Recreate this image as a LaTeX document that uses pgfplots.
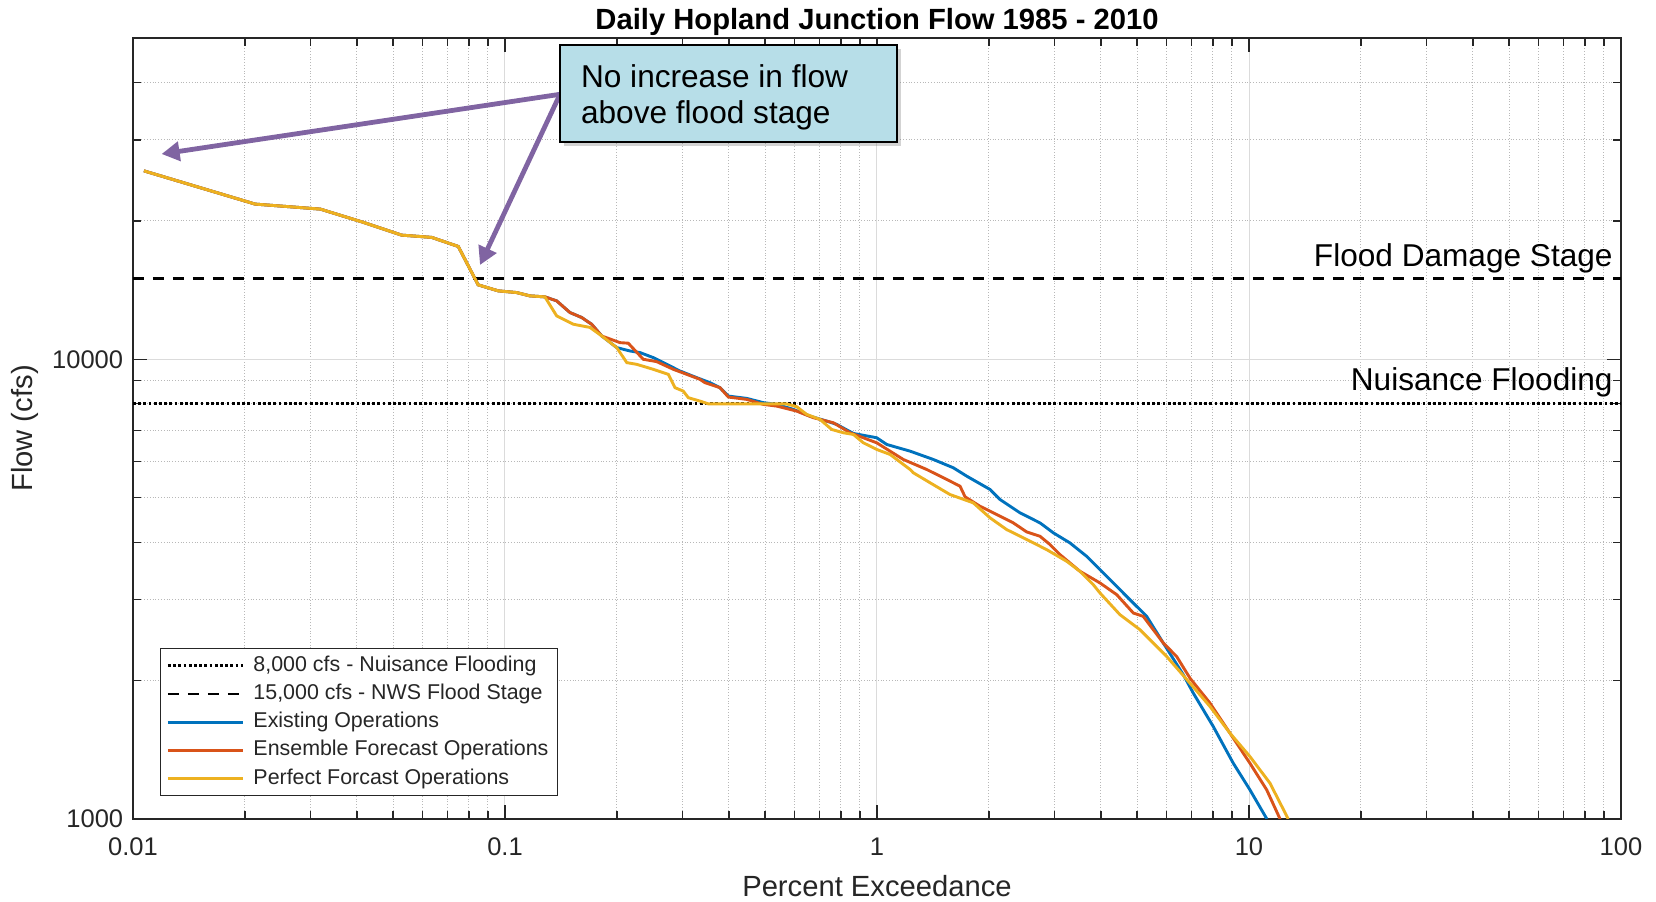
\documentclass[border=0pt]{standalone}
\usepackage{fontspec}
\setmainfont{Liberation Sans}
\usepackage{pgfplots}
\usepackage{pgfplotstable}
\pgfplotsset{compat=1.18}
\usetikzlibrary{arrows.meta,shadows}
\definecolor{mblue}{HTML}{0072BD}
\definecolor{morange}{HTML}{D95319}
\definecolor{myellow}{HTML}{EDB120}
\definecolor{apurple}{HTML}{8064A2}
\definecolor{boxblue}{HTML}{B7DEE8}
\definecolor{axgray}{HTML}{262626}
\pgfplotsset{legend image code/.code={\draw[#1] (0pt,0pt) -- (37.5pt,0pt); \path (40.5pt,0pt);}}

\pgfplotstableread{
x y
0.0107 25700
0.0213 21760
0.0319 21220
0.0416 19860
0.0527 18630
0.0635 18420
0.0749 17600
0.0847 14520
0.0959 14090
0.1075 13970
0.1167 13740
0.128 13670
0.1377 13400
0.1495 12640
0.1607 12330
0.1710 11920
0.1820 11240
0.1997 10605
0.2168 10425
0.2307 10342
0.2504 10085
0.2721 9752
0.2954 9430
0.3276 9123
0.3556 8896
0.3784 8675
0.3986 8318
0.4464 8222
0.4948 8048
0.5376 7980
0.5957 7783
0.6606 7524
0.7324 7338
0.7792 7218
0.8639 6898
0.9981 6751
1.062 6528
1.227 6313
1.417 6055
1.604 5808
1.742 5571
2.013 5210
2.141 4955
2.424 4634
2.743 4407
2.979 4193
3.302 3987
3.661 3728
3.977 3487
4.317 3262
4.786 3000
5.309 2759
5.884 2414
6.66 2060
7.086 1878
8.017 1589
9.074 1322
10.06 1157
11.17 1000
}\existing

\pgfplotstableread{
x y
0.0107 25700
0.0213 21760
0.0319 21220
0.0416 19860
0.0527 18630
0.0635 18420
0.0749 17600
0.0847 14520
0.0959 14090
0.1075 13970
0.1167 13740
0.128 13670
0.1377 13400
0.1495 12640
0.1607 12330
0.1710 11920
0.1820 11240
0.2038 10870
0.2145 10840
0.2354 10000
0.2557 9885
0.2835 9510
0.3079 9275
0.3343 9045
0.3448 8896
0.3784 8675
0.3986 8276
0.4464 8181
0.4948 7980
0.5376 7912
0.6083 7716
0.6743 7464
0.7629 7279
0.8461 6922
0.9981 6583
1.177 6055
1.360 5759
1.539 5479
1.672 5297
1.725 5022
1.892 4790
2.098 4595
2.325 4407
2.526 4212
2.743 4121
2.918 3954
3.104 3760
3.513 3458
3.977 3262
4.41 3076
4.887 2806
5.197 2759
5.884 2414
6.39 2257
6.94 2025
7.856 1787
8.891 1537
10.06 1322
11.16 1157
12.12 1000
}\ensemble

\pgfplotstableread{
x y
0.0107 25700
0.0213 21760
0.0319 21220
0.0416 19860
0.0527 18630
0.0635 18420
0.0749 17600
0.0847 14520
0.0959 14090
0.1075 13970
0.1167 13740
0.128 13670
0.1377 12430
0.1526 11920
0.1692 11730
0.1820 11240
0.1997 10605
0.2125 9835
0.2259 9752
0.2504 9510
0.2748 9275
0.2864 8675
0.3015 8528
0.3110 8251
0.3343 8111
0.352 8000
0.571 8000
0.6083 7888
0.6471 7589
0.7029 7400
0.7554 7038
0.8117 6922
0.8639 6864
0.9188 6583
0.9981 6367
1.084 6209
1.227 5759
1.252 5665
1.389 5388
1.571 5080
1.815 4872
2.013 4520
2.232 4261
2.474 4089
2.859 3855
3.235 3636
3.513 3458
3.815 3234
3.977 3102
4.5 2782
5.093 2581
6.008 2257
6.94 1975
7.856 1757
8.891 1537
10.06 1367
11.39 1196
12.75 1000
}\perfect

\begin{document}
\begin{tikzpicture}
\useasboundingbox (-66.5pt,-41pt) rectangle (761.5pt,409.5pt);
\begin{axis}[
  at={(0pt,0pt)}, anchor=south west,
  scale only axis, width=744pt, height=390.5pt,
  xmode=log, ymode=log,
  xmin=0.01, xmax=100, ymin=1000, ymax=50000,
  xtick={0.01,0.1,1,10,100}, xticklabels={0.01,0.1,1,10,100},
  ytick={1000,10000}, yticklabels={1000,10000},
  minor xtick={0.02,0.03,0.04,0.05,0.06,0.07,0.08,0.09,0.2,0.3,0.4,0.5,0.6,0.7,0.8,0.9,2,3,4,5,6,7,8,9,20,30,40,50,60,70,80,90},
  minor ytick={2000,3000,4000,5000,6000,7000,8000,9000,20000,30000,40000},
  grid=both,
  major grid style={solid, color=black!14, line width=0.5pt},
  minor grid style={densely dotted, color=black!28, line width=0.5pt},
  axis line style={axgray, line width=0.6pt},
  tick style={axgray, line width=0.6pt},
  major tick length=7pt, minor tick length=4pt,
  tick align=inside,
  ticklabel style={font=\fontsize{12.75}{15}\selectfont, text=axgray},
  xticklabel style={yshift=-6pt},
  yticklabel style={xshift=-1.4pt},
  legend cell align=left,
  legend style={at={(0.01815,0.0290)}, anchor=south west, draw=axgray, line width=0.5pt, fill=white,
    font=\fontsize{10.7}{12}\selectfont, text=axgray, inner xsep=3pt, inner ysep=1.5pt,
    nodes={inner xsep=1.5pt, inner ysep=1.8pt, text height=7.9pt, text depth=2.6pt}},
]
\addplot[black, line width=1.5pt, dash pattern=on 1.4pt off 1.2pt] coordinates {(0.01,8000) (100,8000)};
\addlegendentry{8,000 cfs - Nuisance Flooding}
\addplot[black, line width=1.35pt, dash pattern=on 5.5pt off 4.5pt] coordinates {(0.01,15000) (100,15000)};
\addlegendentry{15,000 cfs - NWS Flood Stage}
\addplot[mblue, line width=1.45pt] table[x=x,y=y] {\existing};
\addlegendentry{Existing Operations}
\addplot[morange, line width=1.45pt] table[x=x,y=y] {\ensemble};
\addlegendentry{Ensemble Forecast Operations}
\addplot[myellow, line width=1.45pt] table[x=x,y=y] {\perfect};
\addlegendentry{Perfect Forcast Operations}
\end{axis}
% labels
\node[anchor=base, font=\bfseries\fontsize{14.6}{17}\selectfont] at (372pt,394.5pt) {Daily Hopland Junction Flow 1985 - 2010};
\node[anchor=base, font=\fontsize{14.6}{17}\selectfont, text=axgray] at (372pt,-38.5pt) {Percent Exceedance};
\node[rotate=90, anchor=base, font=\fontsize{14.6}{17}\selectfont, text=axgray] at (-50pt,195.25pt) {Flow (cfs)};
\node[anchor=base east, inner sep=0pt, font=\fontsize{15.8}{18}\selectfont] at (740pt,276.2pt) {Flood Damage Stage};
\node[anchor=base east, inner sep=0pt, font=\fontsize{15.8}{18}\selectfont] at (740pt,214.2pt) {Nuisance Flooding};
% annotation
\draw[apurple, line width=2.4pt, -{Triangle[length=9pt,width=9.5pt]}] (213.5pt,362.35pt) -- (14.3pt,332.5pt);
\draw[apurple, line width=2.4pt, -{Triangle[length=9pt,width=9.5pt]}] (213.5pt,362.35pt) -- (173.5pt,277pt);
\draw[fill=boxblue, draw=black, line width=1pt, drop shadow={shadow xshift=2pt, shadow yshift=-2pt, opacity=0.35}] (213.5pt,338.65pt) rectangle (381.85pt,387pt);
\node[anchor=base west, inner sep=0pt, font=\fontsize{15.8}{18}\selectfont] at (223.85pt,365.85pt) {No increase in flow};
\node[anchor=base west, inner sep=0pt, font=\fontsize{15.8}{18}\selectfont] at (223.85pt,347.85pt) {above flood stage};
\end{tikzpicture}
\end{document}
